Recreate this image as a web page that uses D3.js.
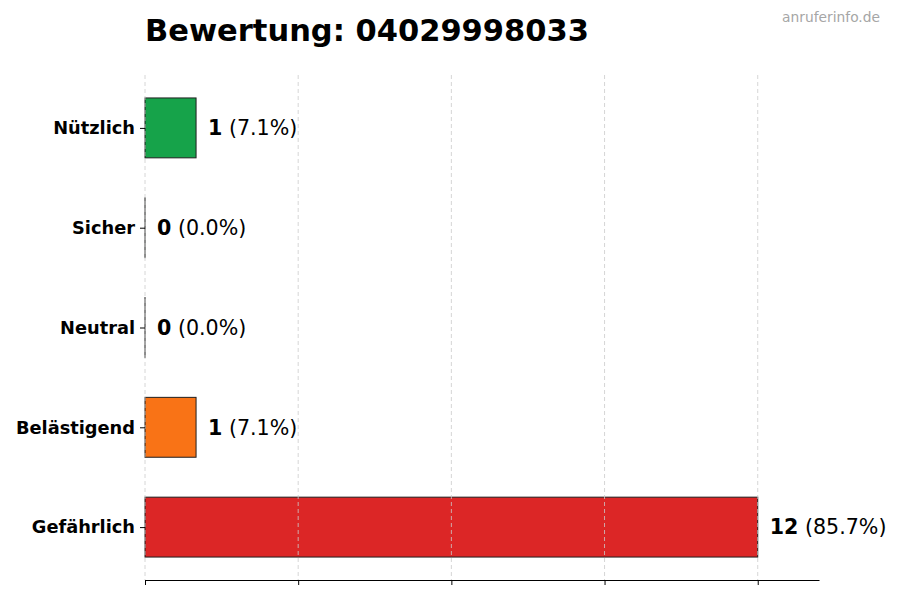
<!DOCTYPE html>
<html>
<head>
<meta charset="utf-8">
<script src="https://cdn.jsdelivr.net/npm/d3@7"></script>
<style>
  body { margin: 0; background: #fff; }
  svg { font-family: 'DejaVu Sans', sans-serif; }
</style>
</head>
<body>
<svg width="900" height="600"></svg>
<script>
const categories = ['Nützlich', 'Sicher', 'Neutral', 'Belästigend', 'Gefährlich']
const counts = [1, 0, 0, 1, 12]
const percents = ['7.1%', '0.0%', '0.0%', '7.1%', '85.7%']
const colors = ['#16a34a', '#16a34a', '#9ca3af', '#f97316', '#dc2626']
const xTicks = [0, 3, 6, 9, 12]

const svg = d3.select('svg')
const margin = {top: 75, right: 81, bottom: 20, left: 145}
const width = +svg.attr('width') - margin.left - margin.right
const height = +svg.attr('height') - margin.top - margin.bottom

const x = d3.scaleLinear().domain([0, d3.max(counts) * 1.1]).range([0, width])
const y = d3.scaleLinear().domain([-0.53, categories.length - 0.47]).range([0, height])
const barH = y(0.6) - y(0)

const g = svg.append('g')
  .attr('transform', 'translate(' + margin.left + ',' + margin.top + ')')

// title + watermark
svg.append('text')
  .attr('x', margin.left)
  .attr('y', 41)
  .attr('font-size', 30.5)
  .attr('font-weight', 'bold')
  .text('Bewertung: 04029998033')

svg.append('text')
  .attr('x', 880)
  .attr('y', 22)
  .attr('text-anchor', 'end')
  .attr('font-size', 13.8)
  .attr('fill', '#a6a6a6')
  .text('anruferinfo.de')

// bars (zero values still show their edge)
g.selectAll('.bar')
  .data(counts)
  .enter().append('rect')
  .attr('class', 'bar')
  .attr('x', 0)
  .attr('y', (d, i) => y(i) - barH / 2)
  .attr('width', (d) => Math.max(x(d), 0.01))
  .attr('height', barH)
  .attr('fill', (d, i) => colors[i])
  .attr('stroke', '#1f1f1f')
  .attr('stroke-width', 1)

// grid on top
g.selectAll('.grid')
  .data(xTicks)
  .enter().append('line')
  .attr('class', 'grid')
  .attr('x1', (d) => x(d))
  .attr('x2', (d) => x(d))
  .attr('y1', 0)
  .attr('y2', height)
  .attr('stroke', '#cccccc')
  .attr('stroke-width', 0.8)
  .attr('stroke-dasharray', '4,3')

// x axis, no labels
const xAxis = g.append('g')
  .attr('transform', 'translate(0,' + height + ')')
  .call(d3.axisBottom(x).tickValues(xTicks).tickFormat('').tickSize(5).tickSizeOuter(0))
xAxis.select('.domain').attr('stroke', '#000').attr('stroke-width', 1.2)
xAxis.selectAll('.tick line').attr('stroke', '#000')

// y axis labels
const yAxis = g.append('g')
  .call(d3.axisLeft(y).tickValues(d3.range(categories.length)).tickFormat((i) => categories[i]).tickSize(5).tickPadding(5))
yAxis.select('.domain').remove()
yAxis.selectAll('.tick line').attr('stroke', '#000')
yAxis.selectAll('.tick text')
  .attr('font-family', 'DejaVu Sans')
  .attr('font-size', 17.8)
  .attr('font-weight', 'bold')
  .attr('fill', '#000')

// value labels
const labels = g.selectAll('.label')
  .data(counts)
  .enter().append('text')
  .attr('class', 'label')
  .attr('x', (d) => x(d) + 12)
  .attr('y', (d, i) => y(i))
  .attr('dy', '0.35em')
  .attr('font-size', 20.6)

labels.append('tspan')
  .attr('font-weight', 'bold')
  .text((d) => d)
labels.append('tspan')
  .text((d, i) => ' (' + percents[i] + ')')
</script>
</body>
</html>
